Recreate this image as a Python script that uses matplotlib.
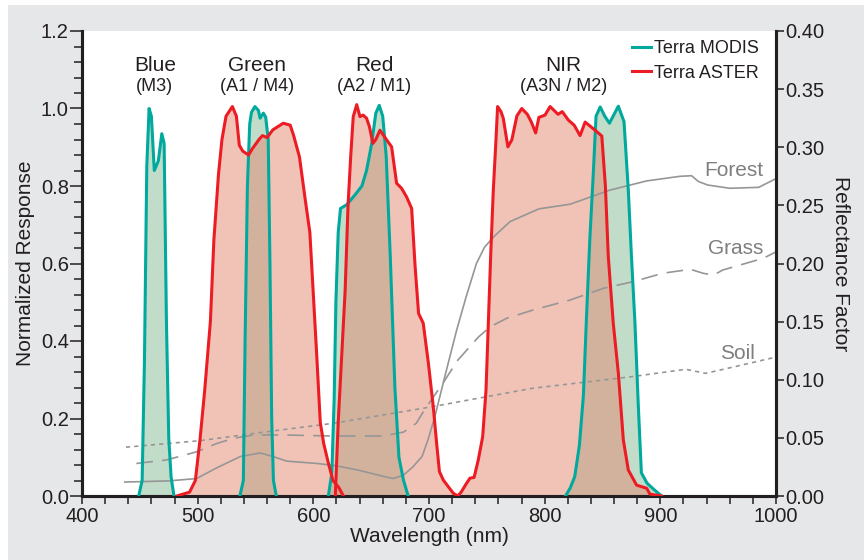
import numpy as np
import matplotlib
matplotlib.use('Agg')
from matplotlib import pyplot as plt
from matplotlib.patches import Rectangle
from matplotlib.ticker import MultipleLocator, FormatStrFormatter

plt.rcParams['font.family'] = ['Liberation Sans', 'DejaVu Sans']

# spectral response curves (wavelength nm, normalized response)
modis_blue_x = [449, 452, 454, 456, 458, 460, 462.5, 466, 469, 471, 473, 475, 477, 479.5]
modis_blue_y = [0, 0.04, 0.35, 0.85, 1.0, 0.98, 0.84, 0.865, 0.935, 0.91, 0.45, 0.15, 0.05, 0]

modis_green_x = [536.5, 539.5, 541, 543, 545, 546.5, 549.5, 552.5, 554, 556.8, 558.8, 561, 562.5, 564, 565.5, 568]
modis_green_y = [0, 0.04, 0.4, 0.8, 0.96, 0.99, 1.005, 0.995, 0.975, 0.988, 0.978, 0.92, 0.6, 0.2, 0.04, 0]

modis_red_x = [613, 616, 618, 619.5, 621.5, 623.5, 629, 636, 642, 646, 650.5, 654, 657, 660, 663, 666.5, 670.5, 674, 678, 682]
modis_red_y = [0, 0.06, 0.25, 0.5, 0.68, 0.742, 0.752, 0.777, 0.8, 0.84, 0.91, 0.988, 1.008, 0.98, 0.876, 0.62, 0.28, 0.1, 0.04, 0]

modis_nir_x = [818, 822, 826, 830, 833.5, 836, 839, 842, 844.4, 848, 852, 856, 860, 863.7, 868.6, 872.3, 875, 878, 881, 883.6, 888.5, 894, 901]
modis_nir_y = [0, 0.02, 0.05, 0.13, 0.26, 0.45, 0.66, 0.83, 0.98, 1.004, 0.98, 0.962, 0.985, 1.006, 0.966, 0.79, 0.62, 0.45, 0.23, 0.06, 0.033, 0.018, 0]

aster_green_x = [482, 493, 498, 502, 506, 511, 514, 518, 521, 524.5, 530, 533.5, 536, 539, 544, 547, 553, 556, 560, 565,
                 574, 580, 583, 588, 593, 597, 600, 603, 606, 609, 613, 617, 622, 626]
aster_green_y = [0, 0.01, 0.04, 0.145, 0.27, 0.45, 0.66, 0.83, 0.92, 0.98, 1.005, 0.98, 0.905, 0.89, 0.88, 0.895, 0.92, 0.93, 0.925, 0.945,
                 0.962, 0.957, 0.93, 0.875, 0.765, 0.68, 0.52, 0.36, 0.19, 0.135, 0.085, 0.04, 0.022, 0]

aster_red_x = [619, 621.5, 624.5, 627.5, 630, 632.3, 634.5, 637.5, 640.3, 643, 646, 648.5, 651.5, 654, 657.6, 663.4, 667.7, 672,
               676.3, 680.6, 685, 688, 691, 695, 699.5, 703.7, 706.6, 709, 712.4, 716.7, 721, 725]
aster_red_y = [0, 0.19, 0.36, 0.53, 0.75, 0.876, 0.979, 1.01, 0.979, 0.983, 0.975, 0.953, 0.91, 0.92, 0.944, 0.919, 0.901, 0.807,
               0.794, 0.772, 0.742, 0.592, 0.471, 0.446, 0.342, 0.23, 0.136, 0.063, 0.041, 0.024, 0.007, 0]

aster_nir_x = [725, 728, 732.5, 735.4, 739, 742.6, 746.4, 749.3, 751.3, 753.3, 755.6, 757.9, 759.3, 762.2, 764.2, 768.2, 771.6,
               776, 780.2, 785, 788.5, 792.2, 795, 800.3, 804.7, 811.6, 815.2, 820.5, 825.5, 830.6, 835, 843.6, 849.4, 852.5,
               855, 859.3, 863.7, 868, 872.3, 879.5, 888.2, 891, 901]
aster_nir_y = [0, 0.011, 0.033, 0.046, 0.048, 0.093, 0.153, 0.274, 0.446, 0.618, 0.79, 0.919, 1.005, 0.992, 0.975, 0.901, 0.919,
               0.981, 1.0, 0.985, 0.965, 0.937, 0.977, 0.983, 1.005, 0.985, 0.992, 0.97, 0.957, 0.93, 0.965, 0.944, 0.929, 0.8,
               0.618, 0.446, 0.317, 0.145, 0.067, 0.028, 0.02, 0.005, 0]

# reflectance spectra (right axis)
forest_x = [437, 475, 499, 516, 537, 554, 565, 577, 603, 620, 640, 660, 669, 678, 686, 694, 699, 705, 715, 724, 732, 741,
            748, 757, 770, 795, 822, 856, 888, 917, 927, 933, 941, 960, 985, 1000]
forest_y = [0.012, 0.013, 0.015, 0.024, 0.034, 0.037, 0.034, 0.030, 0.028, 0.026, 0.022, 0.017, 0.015, 0.018, 0.025, 0.034,
            0.048, 0.068, 0.108, 0.143, 0.171, 0.200, 0.214, 0.224, 0.236, 0.247, 0.251, 0.263, 0.271, 0.275, 0.2755, 0.2705,
            0.2675, 0.2647, 0.2655, 0.273]

grass_x = [447, 473, 499, 516, 531, 548, 574, 617, 660, 678, 689, 696, 712, 725, 743, 753, 767, 790, 822, 851, 877, 902,
           926, 937, 946, 954, 989, 1000]
grass_y = [0.028, 0.031, 0.038, 0.045, 0.0496, 0.0525, 0.0525, 0.0516, 0.0516, 0.055, 0.0625, 0.074, 0.097, 0.117, 0.137,
           0.1456, 0.1528, 0.16, 0.1686, 0.1787, 0.1845, 0.1916, 0.195, 0.1916, 0.19, 0.1944, 0.2045, 0.21]

soil_x = [438, 502, 560, 617, 701, 789, 875, 922, 939, 962, 1000]
soil_y = [0.042, 0.0476, 0.0553, 0.0625, 0.0765, 0.0926, 0.1026, 0.109, 0.1055, 0.1107, 0.1195]

band_names = ['Blue', 'Green', 'Red', 'NIR']
band_ids = ['(M3)', '(A1 / M4)', '(A2 / M1)', '(A3N / M2)']
band_centers = [463, 551, 652.5, 816.5]

TEAL = '#00a99d'
RED = '#ed1c24'
TXT = '#231f20'
GRAY = '#969696'

fig = plt.figure(figsize=(8.64, 5.6), dpi=100)
fig.patch.set_facecolor('white')
fig.patches.append(Rectangle((8 / 864, 0), 1, 555 / 560, transform=fig.transFigure,
                             facecolor='#e6e7e8', edgecolor='none', zorder=-10))

pos = [82 / 864, 64 / 560, 694 / 864, 465 / 560]
ax = fig.add_axes(pos)
ax.set_facecolor('white')
ax_r = ax.twinx()
ax_top = ax.twinx()

modis = [(modis_blue_x, modis_blue_y), (modis_green_x, modis_green_y),
         (modis_red_x, modis_red_y), (modis_nir_x, modis_nir_y)]
aster = [(aster_green_x, aster_green_y), (aster_red_x, aster_red_y), (aster_nir_x, aster_nir_y)]

for x, y in modis:
    ax.fill_between(x, 0, y, color='#c2dcca', lw=0, zorder=1)
for x, y in aster:
    ax.fill_between(x, 0, y, color='#e58971', alpha=0.5, lw=0, zorder=2)

ax_r.plot(forest_x, forest_y, color=GRAY, lw=1.2)
ax_r.plot(grass_x, grass_y, color=GRAY, lw=1.2, dashes=[10, 5.5])
ax_r.plot(soil_x, soil_y, color=GRAY, lw=1.2, dashes=[2.5, 2.5])
ax_r.text(989, 0.280, 'Forest', color='#7f7f7f', fontsize=15, ha='right', va='center')
ax_r.text(989, 0.213, 'Grass', color='#7f7f7f', fontsize=15, ha='right', va='center')
ax_r.text(982, 0.123, 'Soil', color='#7f7f7f', fontsize=15, ha='right', va='center')

for i, (x, y) in enumerate(modis):
    ax_top.plot(x, y, color=TEAL, lw=2.2, label='Terra MODIS' if i == 0 else None)
for i, (x, y) in enumerate(aster):
    ax_top.plot(x, y, color=RED, lw=2.2, label='Terra ASTER' if i == 0 else None)

for name, bid, cx in zip(band_names, band_ids, band_centers):
    ax_top.text(cx, 1.112, name, fontsize=15, color=TXT, ha='center', va='center')
    ax_top.text(cx, 1.058, bid, fontsize=13, color=TXT, ha='center', va='center')

leg = ax_top.legend(loc='upper left', bbox_to_anchor=(0.788, 0.988), frameon=False, fontsize=13,
                    handlelength=1.0, handletextpad=0.2, labelspacing=0.42, borderaxespad=0, borderpad=0.2)
for t in leg.get_texts():
    t.set_color(TXT)

for a in (ax, ax_r, ax_top):
    a.set_xlim(400, 1000)
ax.set_ylim(0, 1.2)
ax_top.set_ylim(0, 1.2)
ax_r.set_ylim(0, 0.4)
ax_top.axis('off')

ax.xaxis.set_major_locator(MultipleLocator(100))
ax.xaxis.set_minor_locator(MultipleLocator(20))
ax.yaxis.set_major_locator(MultipleLocator(0.2))
ax.yaxis.set_minor_locator(MultipleLocator(0.04))
ax.yaxis.set_major_formatter(FormatStrFormatter('%.1f'))
ax_r.yaxis.set_major_locator(MultipleLocator(0.05))
ax_r.yaxis.set_major_formatter(FormatStrFormatter('%.2f'))

ax.tick_params(axis='x', which='both', direction='out', length=6, width=1.1, color=TXT,
               labelsize=14.5, labelcolor=TXT, pad=2)
ax.tick_params(axis='y', which='major', direction='out', length=8.5, width=1.1, color=TXT,
               labelsize=14.5, labelcolor=TXT, pad=1)
ax.tick_params(axis='y', which='minor', direction='out', length=5.5, width=1.1, color=TXT)
ax_r.tick_params(axis='y', which='major', direction='out', length=6, width=1.1, color=TXT,
                 labelsize=14.5, labelcolor=TXT, pad=1)

for a in (ax, ax_r):
    a.spines['top'].set_visible(False)
    for s in ('left', 'right', 'bottom'):
        a.spines[s].set_linewidth(2.2)
        a.spines[s].set_color(TXT)

ax.set_xlabel('Wavelength (nm)', fontsize=15, color=TXT, labelpad=1)
ax.set_ylabel('Normalized Response', fontsize=15, color=TXT, labelpad=4)
ax_r.set_ylabel('Reflectance Factor', fontsize=15, color=TXT, rotation=270, labelpad=18)

fig.savefig('out.png', dpi=100)
